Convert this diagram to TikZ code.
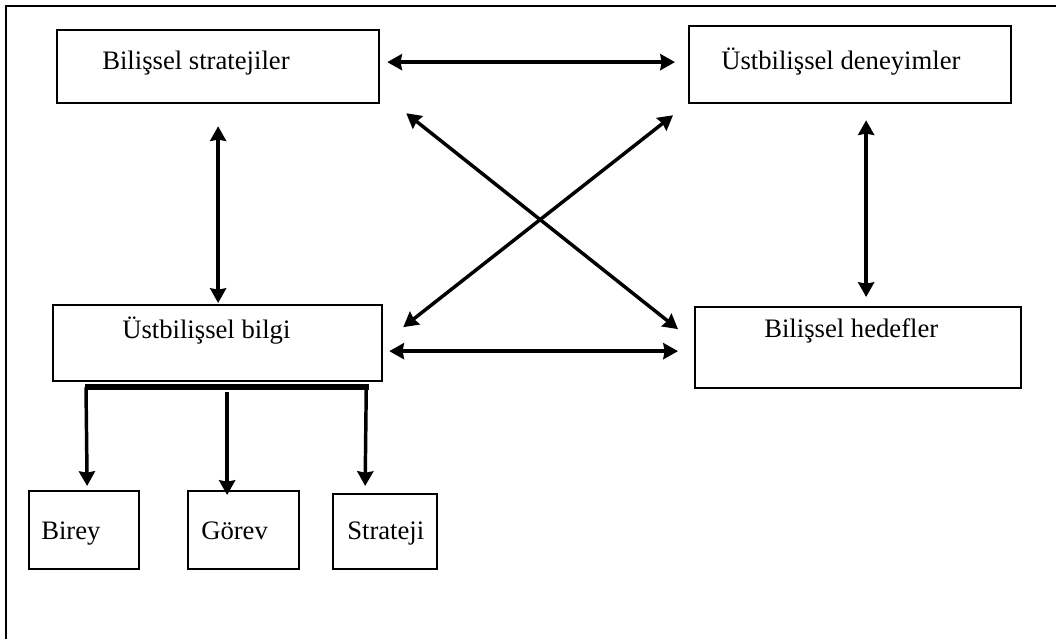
\documentclass[tikz,border=0pt]{standalone}
\usepackage{fontspec}
\setmainfont{Liberation Serif}
\usetikzlibrary{arrows.meta,calc}
\begin{document}
\begin{tikzpicture}[x=0.75pt,y=-0.75pt,
  frame/.style={line width=2pt},
  box/.style={draw,line width=1.7pt,rectangle,inner sep=0pt,anchor=north west},
  lbl/.style={inner sep=0pt,anchor=base west,font=\fontsize{20}{24}\selectfont},
  link/.style={line width=2.6pt,{Stealth[length=11pt,width=12pt,inset=1pt]}-{Stealth[length=11pt,width=12pt,inset=1pt]}},
  drop/.style={line width=2.6pt,-{Stealth[length=11pt,width=12pt,inset=1pt]}},
  bar/.style={line width=4.5pt}]
\useasboundingbox (0,0) rectangle (1056,639);

% outer frame (top and left edges)
\draw[frame] (1056,6) -- (6,6) -- (6,639);

% boxes
\node[box,minimum width=322*0.75pt,minimum height=73*0.75pt] (b1) at (56,29) {};
\node[box,minimum width=322*0.75pt,minimum height=77*0.75pt] (b2) at (688,25) {};
\node[box,minimum width=329*0.75pt,minimum height=76*0.75pt] (b3) at (52,304) {};
\node[box,minimum width=326*0.75pt,minimum height=81*0.75pt] (b4) at (694,306) {};
\node[box,minimum width=110*0.75pt,minimum height=78*0.75pt] (birey) at (28,490) {};
\node[box,minimum width=111*0.75pt,minimum height=78*0.75pt] (gorev) at (187,490) {};
\node[box,minimum width=104*0.75pt,minimum height=75*0.75pt] (strat) at (332,493) {};

% labels
\node[lbl] (t1) at (102,69) {Bilişsel stratejiler};
\node[lbl] (t2) at (721,69) {Üstbilişsel deneyimler};
\node[lbl] (t3) at (122,338) {Üstbilişsel bilgi};
\node[lbl] (t4) at (764,337) {Bilişsel hedefler};
\node[lbl] (t5) at (41,539) {Birey};
\node[lbl] (t6) at (201,539) {Görev};
\node[lbl] (t7) at (347,539) {Strateji};

% two-way links between the four main boxes
\draw[link] ($(b1.east)+(7,-4.5)$) -- ($(b2.west)+(-13,-2.5)$);
\draw[link] ($(b3.east)+(6,8)$) -- ($(b4.west)+(-16,3.5)$);
\draw[link] ($(b1.south)+(0,22)$) -- ($(b3.north)+(0.5,-1)$);
\draw[link] ($(b2.south)+(16,16)$) -- ($(b4.north)+(8,-9)$);
\draw[link] ($(b1.south east)+(26,9)$) -- ($(b4.west)+(-16,-18.5)$);
\draw[link] ($(b3.east)+(20,-16)$) -- ($(b2.south west)+(-15,11)$);

% branching bar under the knowledge box
\coordinate (barL) at ($(b3.south west)+(33,5)$);
\coordinate (barR) at ($(b3.south east)+(-14,5)$);
\draw[bar] (barL) -- (barR);
\draw[drop] ($(barL)+(1,0)$) -- ($(birey.north)+(3,-4)$);
\draw[drop] ($(b3.south)+(9.5,10)$) -- ($(gorev.north)+(-16.5,5)$);
\draw[drop] ($(barR)+(-3,0)$) -- ($(strat.north)+(-20,-7)$);
\end{tikzpicture}
\end{document}
